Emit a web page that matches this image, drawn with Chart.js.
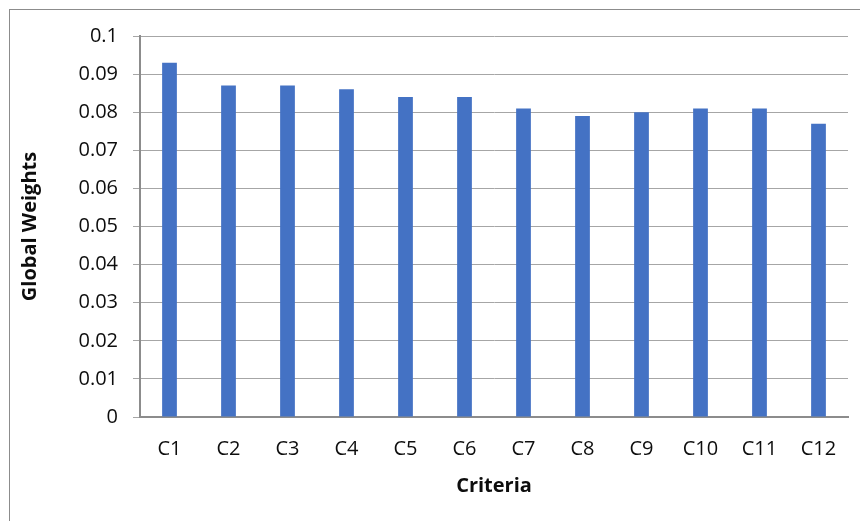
<!DOCTYPE html>
<html>
<head>
<meta charset="utf-8">
<script src="https://cdn.jsdelivr.net/npm/chart.js@4"></script>
<style>
  html, body { margin: 0; padding: 0; background: #fff; }
  #wrap { position: relative; width: 860px; height: 521px; overflow: hidden; }
  #frame {
    position: absolute; left: 9px; top: 9px; width: 900px; height: 600px;
    border-top: 1px solid #8c8c8c; border-left: 1px solid #8c8c8c;
  }
  canvas { position: absolute; left: 0; top: 0; }
</style>
</head>
<body>
<div id="wrap">
  <div id="frame"></div>
  <canvas id="chart" width="860" height="521"></canvas>
</div>
<script>
const categories = ["C1", "C2", "C3", "C4", "C5", "C6", "C7", "C8", "C9", "C10", "C11", "C12"];
const globalWeights = [0.093, 0.087, 0.087, 0.086, 0.084, 0.084, 0.081, 0.079, 0.080, 0.081, 0.081, 0.077];
const yTickLabels = ["0", "0.01", "0.02", "0.03", "0.04", "0.05", "0.06", "0.07", "0.08", "0.09", "0.1"];

const fontFamily = "'Open Sans', 'Liberation Sans', sans-serif";
const textColor = "#0d0d0d";

const ctx = document.getElementById("chart").getContext("2d");
new Chart(ctx, {
  type: "bar",
  data: {
    labels: categories,
    datasets: [{
      label: "Global Weights",
      data: globalWeights,
      backgroundColor: "#4472C4",
      borderWidth: 0,
      barPercentage: 0.25,
      categoryPercentage: 1,
    }],
  },
  options: {
    responsive: false,
    animation: false,
    layout: { padding: { top: 36, right: 12, bottom: 12, left: 0 } },
    plugins: {
      legend: { display: false },
      tooltip: { enabled: false },
    },
    scales: {
      x: {
        afterFit: (scale) => { scale.height = 92; },
        grid: { display: false, drawTicks: false },
        border: { display: true, color: "#8c8c8c", width: 2 },
        ticks: {
          padding: 20,
          color: textColor,
          font: { family: fontFamily, size: 20 },
          maxRotation: 0,
        },
        title: {
          display: true,
          text: "Criteria",
          color: textColor,
          font: { family: fontFamily, size: 20, weight: "bold" },
          padding: { top: 13, bottom: 11 },
        },
      },
      y: {
        min: 0,
        max: 0.1,
        afterFit: (scale) => { scale.width = 140; },
        grid: { color: "#a6a6a6", lineWidth: 1, tickLength: 7 },
        border: { display: true, color: "#8c8c8c", width: 2 },
        ticks: {
          stepSize: 0.01,
          padding: 15,
          color: textColor,
          font: { family: fontFamily, size: 20 },
          callback: (value, index) => yTickLabels[index],
        },
        title: {
          display: true,
          text: "Global Weights",
          color: textColor,
          font: { family: fontFamily, size: 20, weight: "bold" },
          padding: { top: 18, bottom: 0 },
        },
      },
    },
  },
});
</script>
</body>
</html>
